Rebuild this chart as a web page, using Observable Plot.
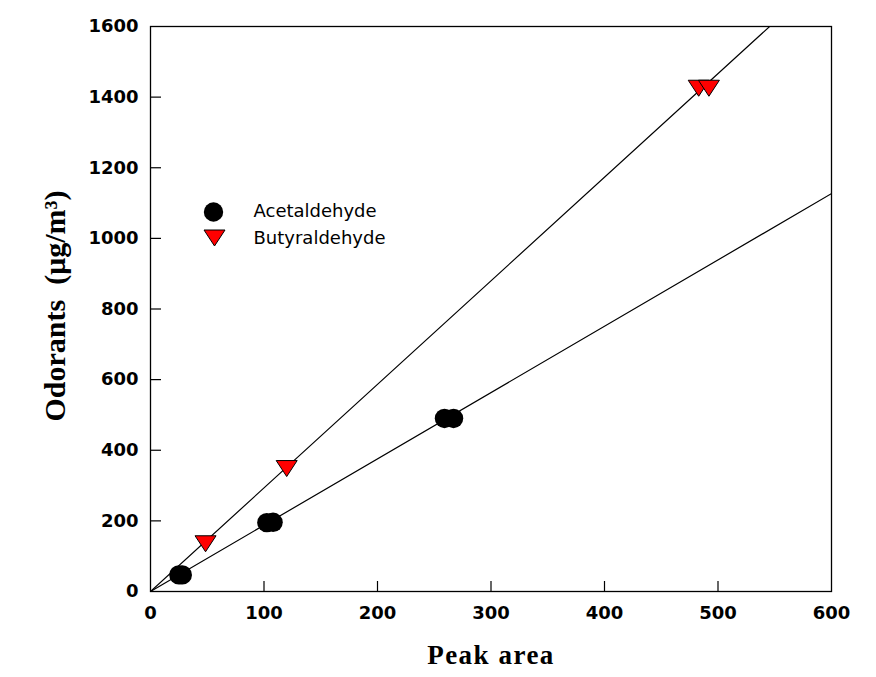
<!DOCTYPE html>
<html>
<head>
<meta charset="utf-8">
<script src="https://cdn.jsdelivr.net/npm/d3@7"></script>
<script src="https://cdn.jsdelivr.net/npm/@observablehq/plot@0.6"></script>
<style>
  html, body { margin: 0; padding: 0; background: white; }
</style>
</head>
<body>
<div id="chart"></div>
<script>
// ---- data ----
const series = ["Acetaldehyde", "Butyraldehyde"];
const acetPeak = [25, 28, 102.5, 108, 259, 267];
const acetConc = [47, 47, 195, 196, 490, 490];
const butyPeak = [48.5, 120, 483, 492];
const butyConc = [138, 351, 1428, 1428];
const fitSlopes = [1.878, 2.933];
const fitIntercepts = [0, 0];
const xTicks = [0, 100, 200, 300, 400, 500, 600];
const yTicks = [0, 200, 400, 600, 800, 1000, 1200, 1400, 1600];
const xDomain = [0, 600];
const yDomain = [0, 1600];
const xTitle = "Peak area";
const yTitle = "Odorants\u2002(μg/m³)";

// ---- build tables ----
const acet = acetPeak.map((x, i) => ({x, y: acetConc[i]}));
const buty = butyPeak.map((x, i) => ({x, y: butyConc[i]}));
const fits = series.flatMap((s, i) => xDomain.map(x => ({series: s, x, y: fitIntercepts[i] + fitSlopes[i] * x})));

const width = 876, height = 677;
const mL = 150, mR = 45, mT = 26, mB = 86;
const plotW = width - mL - mR, plotH = height - mT - mB;

const triDown = {
  draw(ctx, size) {
    const r = Math.sqrt(size / Math.PI);
    ctx.moveTo(-1.05 * r, -0.7 * r);
    ctx.lineTo(1.05 * r, -0.7 * r);
    ctx.lineTo(0, 0.9 * r);
    ctx.closePath();
  }
};

const chart = Plot.plot({
  width, height,
  marginLeft: mL, marginRight: mR, marginTop: mT, marginBottom: mB,
  style: {fontFamily: "DejaVu Sans", background: "white", color: "black"},
  x: {domain: xDomain},
  y: {domain: yDomain},
  marks: [
    Plot.line(fits, {x: "x", y: "y", z: "series", stroke: "black", strokeWidth: 1.2, clip: true}),
    Plot.frame({stroke: "black", strokeWidth: 1.3}),
    Plot.ruleY(yTicks.slice(1, -1), {y: d => d, insetRight: plotW - 11, stroke: "black", strokeWidth: 1.2}),
    Plot.ruleX(xTicks.slice(1, -1), {x: d => d, insetTop: plotH - 10, stroke: "black", strokeWidth: 1.2}),
    Plot.axisY(yTicks, {tickSize: 0, tickPadding: 12, tickFormat: d => String(d), fontSize: 18, fontWeight: "bold", fontFamily: "DejaVu Sans", label: null}),
    Plot.axisX(xTicks, {tickSize: 0, tickPadding: 15, tickFormat: d => String(d), fontSize: 18, fontWeight: "bold", fontFamily: "DejaVu Sans", label: null}),
    Plot.dot(acet, {x: "x", y: "y", r: 9.7, fill: "black", symbol: "circle"}),
    Plot.dot(buty, {x: "x", y: "y", r: 10, fill: "#ff0000", stroke: "black", strokeWidth: 1, symbol: triDown}),
    // legend
    Plot.dot([series[0]], {frameAnchor: "top-left", dx: 63, dy: 185.5, r: 9.7, fill: "black", symbol: "circle"}),
    Plot.dot([series[1]], {frameAnchor: "top-left", dx: 64, dy: 210.5, r: 10, fill: "#ff0000", stroke: "black", strokeWidth: 1, symbol: triDown}),
    Plot.text([series[0]], {text: d => d, frameAnchor: "top-left", dx: 103, dy: 185, textAnchor: "start", lineAnchor: "middle", fontSize: 18, fontFamily: "DejaVu Sans", fill: "black"}),
    Plot.text([series[1]], {text: d => d, frameAnchor: "top-left", dx: 103, dy: 211.5, textAnchor: "start", lineAnchor: "middle", fontSize: 18, fontFamily: "DejaVu Sans", fill: "black"}),
    // axis titles
    Plot.text([xTitle], {text: d => d, frameAnchor: "bottom", dy: 64, textAnchor: "middle", lineAnchor: "middle", fontSize: 27, fontWeight: "bold", fontFamily: "Liberation Serif", fill: "black"}),
    Plot.text([yTitle], {text: d => d, frameAnchor: "left", dx: -95, dy: -3, rotate: -90, textAnchor: "middle", lineAnchor: "middle", fontSize: 30, fontWeight: "bold", fontFamily: "Liberation Serif", fill: "black"})
  ]
});
d3.select(chart).selectAll("text")
  .filter(function() { return this.textContent === xTitle; })
  .style("letter-spacing", "1.5px");
document.getElementById("chart").appendChild(chart);
</script>
</body>
</html>
